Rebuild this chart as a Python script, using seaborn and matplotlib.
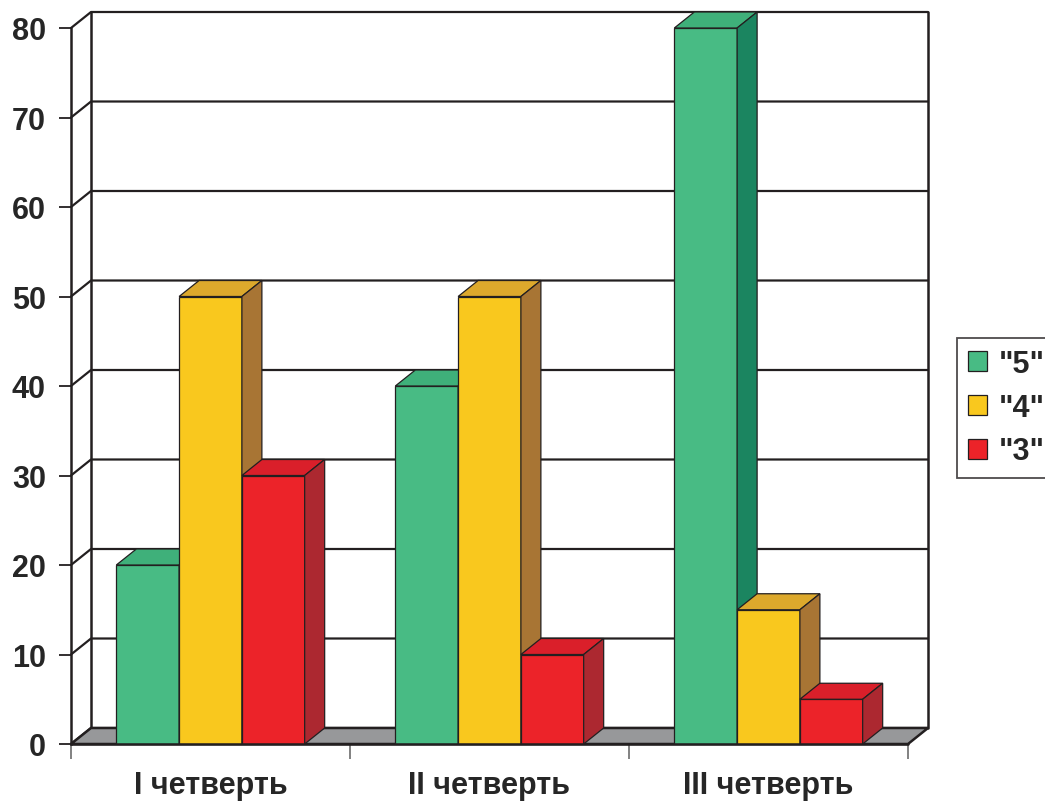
import matplotlib
matplotlib.use('Agg')
import matplotlib.pyplot as plt
import seaborn as sns
import pandas as pd
from matplotlib.patches import Polygon, Patch

# data
quarters = ['I четверть', 'II четверть', 'III четверть']
grades = ['"5"', '"4"', '"3"']
grade_5 = [20, 40, 80]
grade_4 = [50, 50, 15]
grade_3 = [30, 10, 5]
y_ticks = [0, 10, 20, 30, 40, 50, 60, 70, 80]

front_colors = ['#48BB84', '#F9C81E', '#EC2329']
top_colors = ['#3FB07A', '#DDA92C', '#DA1F2A']
side_colors = ['#1B8560', '#A87534', '#AC2830']
line_color = '#231F20'

df = pd.DataFrame({
    'quarter': quarters * 3,
    'grade': [g for g in grades for _ in quarters],
    'value': grade_5 + grade_4 + grade_3,
})

sns.set_style('white')
plt.rcParams['font.family'] = ['Liberation Sans', 'DejaVu Sans']
plt.rcParams['font.weight'] = 'bold'

fig = plt.figure(figsize=(10.45, 8.03), dpi=100)
W, H = 1045, 803
# front plane: x 71..908 px, y(0)=745 px, y(80)=29 px
ax = fig.add_axes([71 / W, (H - 745) / H, 837 / W, (745 - 29) / H])

sns.barplot(data=df, x='quarter', y='value', hue='grade', hue_order=grades,
            palette=front_colors, saturation=1, width=0.675, gap=0,
            edgecolor=line_color, linewidth=0.9, legend=False, ax=ax)

ax.set_xlim(-0.5, 2.5)
ax.set_ylim(0, 80)

# depth offset (20 px right, 16 px up) in data units
p0 = ax.transData.transform((0, 0))
dx, dy = ax.transData.inverted().transform(p0 + [20, 16])

x0, x1 = -0.5, 2.5
# floor
ax.add_patch(Polygon([(x0, 0), (x1, 0), (x1 + dx, dy), (x0 + dx, dy)],
                     closed=True, facecolor='#97989A', edgecolor=line_color,
                     linewidth=1.8, zorder=1, clip_on=False))
# back wall / left wall grid
for t in y_ticks:
    ax.plot([x0, x0 + dx, x1 + dx], [t, t + dy, t + dy], color=line_color,
            linewidth=1.6, zorder=0.5, clip_on=False)
ax.plot([x0 + dx, x0 + dx], [dy, 80 + dy], color=line_color, linewidth=1.8,
        zorder=0.5, clip_on=False)
ax.plot([x1 + dx, x1 + dx], [dy, 80 + dy], color=line_color, linewidth=1.8,
        zorder=0.5, clip_on=False)

# 3D faces for each bar
bars = [b for b in ax.patches if isinstance(b, matplotlib.patches.Rectangle)]
n = len(quarters)
for i, b in enumerate(bars):
    gi = i // n
    x, w, h = b.get_x(), b.get_width(), b.get_height()
    z = 5 + x
    b.set_zorder(z)
    top = Polygon([(x, h), (x + w, h), (x + w + dx, h + dy), (x + dx, h + dy)],
                  closed=True, facecolor=top_colors[gi], edgecolor=line_color,
                  linewidth=0.9, zorder=z, clip_on=False)
    side = Polygon([(x + w, 0), (x + w + dx, dy), (x + w + dx, h + dy), (x + w, h)],
                   closed=True, facecolor=side_colors[gi], edgecolor=line_color,
                   linewidth=0.9, zorder=z, clip_on=False)
    ax.add_patch(top)
    ax.add_patch(side)

# axes styling
for s in ['top', 'right', 'bottom']:
    ax.spines[s].set_visible(False)
ax.spines['left'].set_color(line_color)
ax.spines['left'].set_linewidth(1.8)
ax.plot([x0, x1], [0, 0], color=line_color, linewidth=1.8, zorder=20, clip_on=False)

ax.set_yticks(y_ticks)
ax.set_yticklabels([str(t) for t in y_ticks], fontsize=22, fontweight='bold')
ax.tick_params(axis='y', direction='out', length=9, width=1.3, color=line_color,
               pad=9, left=True)
ax.set_xticks([0, 1, 2])
ax.set_xticklabels(quarters, fontsize=22, fontweight='bold')
ax.set_xticks([-0.5, 0.5, 1.5, 2.5], minor=True)
ax.tick_params(axis='x', which='major', length=0, pad=19)
ax.tick_params(axis='x', which='minor', direction='out', length=11, width=1.3,
               color='#777777', bottom=True)
ax.set_xlabel('')
ax.set_ylabel('')
ax.grid(False)

handles = [Patch(facecolor=c, edgecolor=line_color, linewidth=0.9) for c in front_colors]
leg = fig.legend(handles, grades, loc='upper left',
                 bbox_to_anchor=(957 / W, 1 - 339 / H), borderaxespad=0,
                 frameon=True, prop={'size': 22, 'weight': 'bold'},
                 handlelength=0.62, handleheight=0.65, handletextpad=0.4,
                 labelspacing=0.45, borderpad=0.36, fancybox=False)
leg.get_frame().set_edgecolor(line_color)
leg.get_frame().set_linewidth(1.3)

fig.savefig('out.png', dpi=100)
